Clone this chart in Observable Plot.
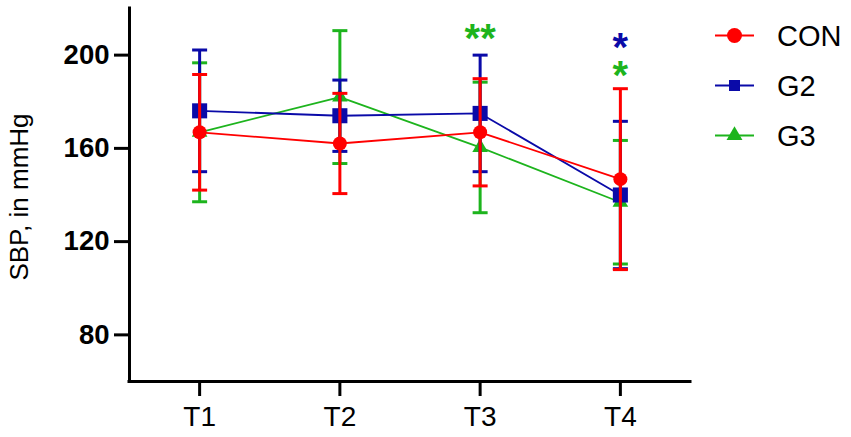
<!DOCTYPE html>
<html><head><meta charset="utf-8">
<script src="https://cdn.jsdelivr.net/npm/d3@7"></script>
<script src="https://cdn.jsdelivr.net/npm/@observablehq/plot@0.6"></script>
<style>
body{margin:0;background:#fff;}
#wrap{position:relative;width:851px;height:437px;font-family:"Liberation Sans",Arial,sans-serif;}
#wrap svg{position:absolute;left:0;top:0;}
</style></head><body><div id="wrap"></div>
<script>
const timepoints = ["T1", "T2", "T3", "T4"];
const groups = ["CON", "G2", "G3"];
const colors = ["#ff0000", "#0a0aa8", "#1db41d"];
const symbols = ["circle", "square", "triangle"];
const markerR = [7, 8.5, 5.8];

const conMean = [166.9, 162.1, 166.9, 146.8];
const conSD   = [24.8, 21.5, 23.0, 38.8];
const g2Mean  = [176.1, 174.0, 175.0, 140.0];
const g2SD    = [26.1, 15.3, 25.0, 31.6];
const g3Mean  = [166.9, 182.0, 160.4, 136.9];
const g3SD    = [29.8, 28.5, 28.0, 26.5];

const yTicks = [80, 120, 160, 200];
const yDomain = [60, 220];

// significance markers
const starTime  = ["T3", "T4", "T4"];
const starGroup = ["G3", "G2", "G3"];
const starLabel = ["**", "*", "*"];
const starY     = [209.5, 205.7, 193.5];

const means = [conMean, g2Mean, g3Mean];
const sds = [conSD, g2SD, g3SD];
const rows = groups.flatMap((g, gi) => timepoints.map((t, ti) => ({
  group: g, t, x: ti + 1, mean: means[gi][ti], sd: sds[gi][ti]
})));
const stars = starLabel.map((s, i) => ({label: s, x: timepoints.indexOf(starTime[i]) + 1, y: starY[i], group: starGroup[i]}));

const capSymbol = {draw(ctx, size) { const w = Math.sqrt(size / Math.PI); ctx.moveTo(-w, 0); ctx.lineTo(w, 0); }};

const groupMarks = [];
for (const gi of [2, 1, 0]) {
  const g = groups[gi];
  const d = rows.filter(r => r.group === g);
  groupMarks.push(
    Plot.line(d, {x: "x", y: "mean", stroke: colors[gi], strokeWidth: 1.8}),
    Plot.ruleX(d, {x: "x", y1: r => r.mean - r.sd, y2: r => r.mean + r.sd, stroke: colors[gi], strokeWidth: 3}),
    Plot.dot(d, {x: "x", y: r => r.mean + r.sd, symbol: capSymbol, r: 7.5, stroke: colors[gi], fill: "none", strokeWidth: 3}),
    Plot.dot(d, {x: "x", y: r => r.mean - r.sd, symbol: capSymbol, r: 7.5, stroke: colors[gi], fill: "none", strokeWidth: 3}),
    Plot.dot(d, {x: "x", y: "mean", symbol: symbols[gi], r: markerR[gi], fill: colors[gi], stroke: "none"})
  );
}

const chart = Plot.plot({
  width: 851, height: 437,
  marginLeft: 129, marginRight: 161, marginTop: 8, marginBottom: 56,
  style: {fontFamily: '"Liberation Sans", Arial, sans-serif', background: "transparent", overflow: "visible"},
  x: {type: "linear", domain: [0.5, 4.5]},
  y: {domain: yDomain},
  marks: [
    Plot.axisY({ticks: yTicks, tickSize: 15, tickPadding: 5, strokeWidth: 3, fontSize: 27.5, fontWeight: "bold", label: null, fill: "#000", stroke: "#000"}),
    Plot.axisX({ticks: [1, 2, 3, 4], tickFormat: i => timepoints[i - 1], tickSize: 15, tickPadding: 10, strokeWidth: 3, fontSize: 28, label: null, fill: "#000", stroke: "#000"}),
    Plot.ruleY([yDomain[0]], {stroke: "#000", strokeWidth: 3, strokeLinecap: "square"}),
    Plot.ruleX([0.5], {stroke: "#000", strokeWidth: 3, strokeLinecap: "square"}),
    Plot.text(["SBP, in mmHg"], {frameAnchor: "left", dx: -110, dy: 2, rotate: -90, fontSize: 26, fill: "#000", textAnchor: "middle"}),
    ...groupMarks,
    Plot.text(stars, {x: "x", y: "y", text: "label", fill: d => colors[groups.indexOf(d.group)], fontSize: 40, fontWeight: "bold", dy: 6})
  ]
});
document.getElementById("wrap").appendChild(chart);

// legend
const leg = d3.select("#wrap").append("svg").attr("width", 851).attr("height", 437).style("pointer-events", "none");
const legSize = [Math.PI * 7.5 * 7.5, 121, 110];
const legSym = [d3.symbolCircle, d3.symbolSquare, d3.symbolTriangle];
groups.forEach((g, i) => {
  const y = 35.5 + i * 50;
  const row = leg.append("g").attr("transform", `translate(0,${y})`);
  row.append("line").attr("x1", 715).attr("x2", 754).attr("stroke", colors[i]).attr("stroke-width", 2);
  row.append("path").attr("transform", "translate(734.5,0)").attr("d", d3.symbol(legSym[i], legSize[i])()).attr("fill", colors[i]);
  row.append("text").attr("x", 777).attr("dy", "0.36em").attr("font-size", 29).attr("fill", "#000")
    .attr("font-family", '"Liberation Sans", Arial, sans-serif').text(g);
});
</script></body></html>
